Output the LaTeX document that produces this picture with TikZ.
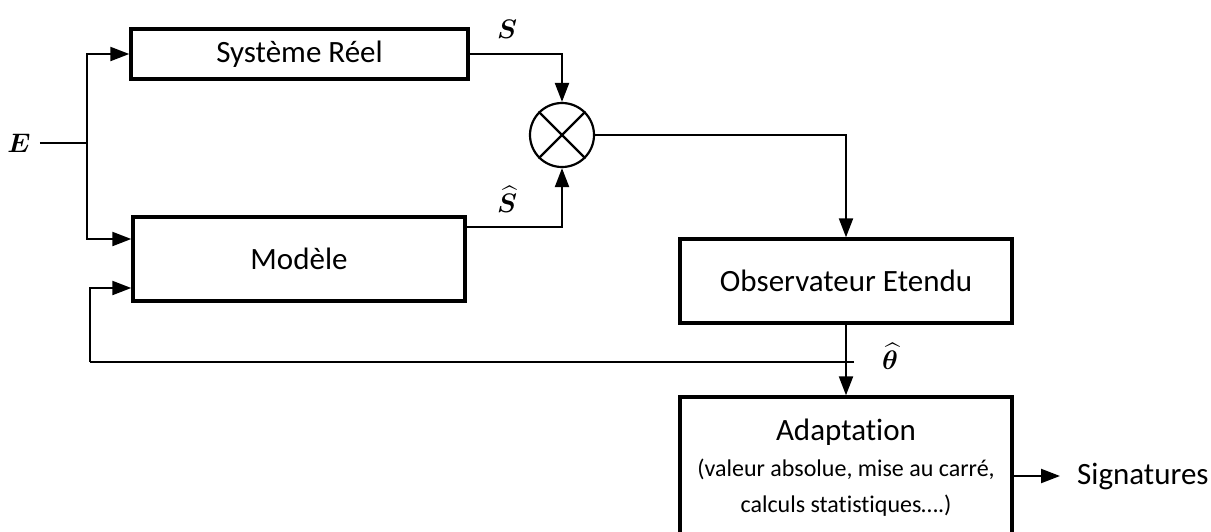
\documentclass[tikz,border=0pt]{standalone}
\usepackage{graphicx}
\usepackage{amsmath,bm}
\usepackage{fontspec}
\setmainfont{Carlito}[Ligatures={NoCommon}]
\usetikzlibrary{arrows.meta}
\newcommand{\biglbl}[1]{\scalebox{1.55}{\fontsize{17.28}{20}\selectfont$#1$}}
\begin{document}
\begin{tikzpicture}[x=1pt,y=-1pt,
  blk/.style={draw,line width=3.4pt,inner sep=0pt,font=\fontsize{31}{36}\selectfont},
  conn/.style={line width=2.2pt},
  arr/.style={conn,-{Triangle[length=19pt,width=14pt]}},
  lbl/.style={inner sep=0pt}]
\useasboundingbox (0,0) rectangle (1211,531);
% blocks
\node[blk,minimum width=337pt,minimum height=50pt] (sys) at (299.5,54) {Système Réel};
\node[blk,minimum width=332pt,minimum height=84pt] (mod) at (299,259) {Modèle};
\node[draw,circle,line width=2.2pt,minimum size=64pt,inner sep=0pt] (sum) at (562,135) {};
\node[blk,minimum width=332pt,minimum height=142pt,align=center] (adapt) at (846,468)
  {\fontsize{31}{34}\selectfont Adaptation\\
   \fontsize{24}{34}\selectfont (valeur absolue, mise au carré,\\
   \fontsize{24}{34}\selectfont calculs statistiques….)};
\node[blk,minimum width=332pt,minimum height=84pt] (obs) at (846,281) {Observateur Etendu};
% labels
\node[lbl] (E) at (19,143) {\biglbl{\bm{E}}};
\node[lbl] (Slbl) at (507,29) {\biglbl{\bm{S}}};
\node[lbl] (Shlbl) at (507,199) {\biglbl{\bm{\widehat{S}}}};
\node[lbl] (th) at (890,356) {\biglbl{\bm{\widehat{\theta}}}};
\node[inner sep=0pt,anchor=west,font=\fontsize{31}{36}\selectfont] (sig) at (1077,476) {Signatures};
% coordinates
\coordinate (split) at (87,143);
\coordinate (fb) at (854,362);
\coordinate (fbl) at (90,362);
% connectors
\draw[conn] ([xshift=9pt]E.east) -- (split);
\draw[arr] (split) |- (sys.west);
\draw[arr] (split) |- ([yshift=20pt]mod.west);
\draw[arr] (sys.east) -| (sum.north);
\draw[arr] ([yshift=32pt]mod.east) -| (sum.south);
\draw[conn] (sum.north west) -- (sum.south east) (sum.north east) -- (sum.south west);
\draw[arr] (sum.east) -| (obs.north);
\draw[arr] (obs.south) -- (adapt.north);
\draw[conn] (fb) -- (fbl);
\draw[arr] (fbl) |- ([yshift=-29pt]mod.west);
\draw[arr] ([yshift=-8pt]adapt.east) -- ([xshift=-17pt]sig.west);
\end{tikzpicture}
\end{document}
